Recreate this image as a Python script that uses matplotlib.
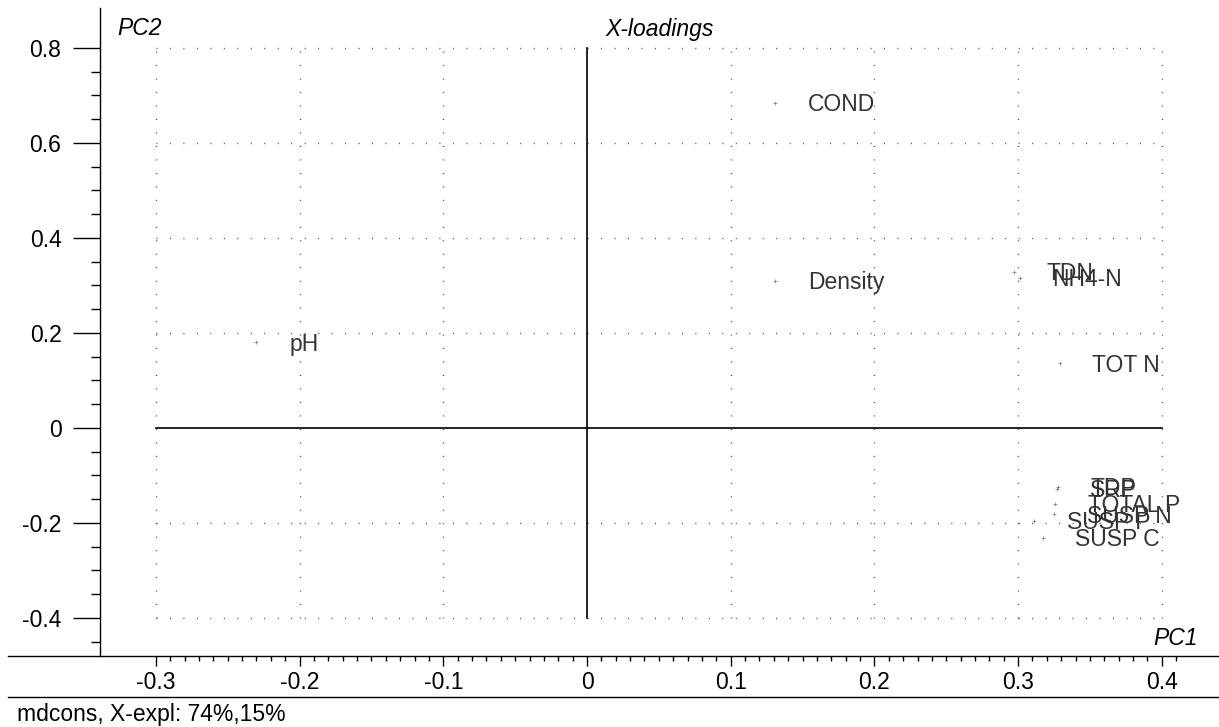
import matplotlib.pyplot as plt
import matplotlib.lines as mlines
import numpy as np

plt.rcParams['font.family'] = ['Liberation Sans', 'DejaVu Sans']
plt.rcParams['lines.scale_dashes'] = False

# X-loadings, PC1 vs PC2
variables = ['pH', 'COND', 'Density', 'TDN', 'NH4-N', 'TOT N',
             'TDP', 'SRP', 'TOTAL P', 'SUSP N', 'SUSP P', 'SUSP C']
pc1 = [-0.230, 0.131, 0.131, 0.297, 0.301, 0.329,
       0.328, 0.327, 0.326, 0.325, 0.311, 0.317]
pc2 = [0.180, 0.684, 0.310, 0.328, 0.316, 0.136,
       -0.124, -0.129, -0.159, -0.182, -0.196, -0.232]

x_major = [-0.3, -0.2, -0.1, 0, 0.1, 0.2, 0.3, 0.4]
y_major = [-0.4, -0.2, 0, 0.2, 0.4, 0.6, 0.8]
x_grid = [-0.3, -0.2, -0.1, 0.1, 0.2, 0.3, 0.4]
y_grid = [-0.4, -0.2, 0.2, 0.4, 0.6, 0.8]
footer = 'mdcons, X-expl: 74%,15%'

W, H = 1219, 727
fs = 16.5
fig = plt.figure(figsize=(W / 100, H / 100), dpi=100)
ax = fig.add_axes([100 / W, 71 / H, 1119 / W, 648 / H])
ax.set_xlim(-0.3389, 0.4398)
ax.set_ylim(-0.48, 0.8842)

for s in ['top', 'right', 'bottom']:
    ax.spines[s].set_visible(False)
ax.spines['left'].set_linewidth(1.0)

ax.set_xticks(x_major)
ax.set_xticklabels([f'{v:g}' for v in x_major], fontsize=fs)
ax.set_xticks(np.arange(-0.30, 0.411, 0.01), minor=True)
ax.set_yticks(y_major)
ax.set_yticklabels([f'{v:g}' for v in y_major], fontsize=fs)
ax.set_yticks(np.arange(-0.45, 0.801, 0.05), minor=True)
ax.tick_params(axis='x', which='major', length=7.2, width=1, pad=3.6, direction='out')
ax.tick_params(axis='x', which='minor', length=3.6, width=1, direction='out')
ax.tick_params(axis='y', which='major', length=19.4, width=1, pad=8.4, direction='out')
ax.tick_params(axis='y', which='minor', length=6.5, width=1, direction='out')

# dotted grid inside the plotting range
dots = (0, (0.7, 9.0))
ax.hlines(y_grid, -0.3, 0.4, colors='#444444', linestyles=dots, lw=1)
ax.vlines(x_grid, -0.4, 0.8, colors='#444444', linestyles=dots, lw=1)

# zero cross
ax.plot([-0.3, 0.4], [0, 0], color='black', lw=1.2)
ax.plot([0, 0], [-0.4, 0.8], color='black', lw=1.2)

ax.plot(pc1, pc2, linestyle='none', marker='+', markersize=3.5,
        mew=0.5, color='#777777')
for name, x, y in zip(variables, pc1, pc2):
    ax.annotate(name, (x, y), xytext=(23.5, -5.9), textcoords='offset points',
                ha='left', va='baseline', fontsize=fs, color='#333333')

# axis line across the figure and footer rule
fig.add_artist(mlines.Line2D([8 / W, 1], [71 / H, 71 / H], color='black', lw=1.0,
                             transform=fig.transFigure))
fig.add_artist(mlines.Line2D([8 / W, 1], [30 / H, 30 / H], color='black', lw=1.0,
                             transform=fig.transFigure))

fig.text(117 / W, (H - 35) / H, 'PC2', fontsize=fs, style='italic', va='baseline')
fig.text(605 / W, (H - 36) / H, 'X-loadings', fontsize=fs, style='italic', va='baseline')
fig.text(1198 / W, (H - 645) / H, 'PC1', fontsize=fs, style='italic',
         va='baseline', ha='right')
fig.text(17 / W, 13 / H, footer, fontsize=fs, va='center')

fig.savefig('out.png', dpi=100)
